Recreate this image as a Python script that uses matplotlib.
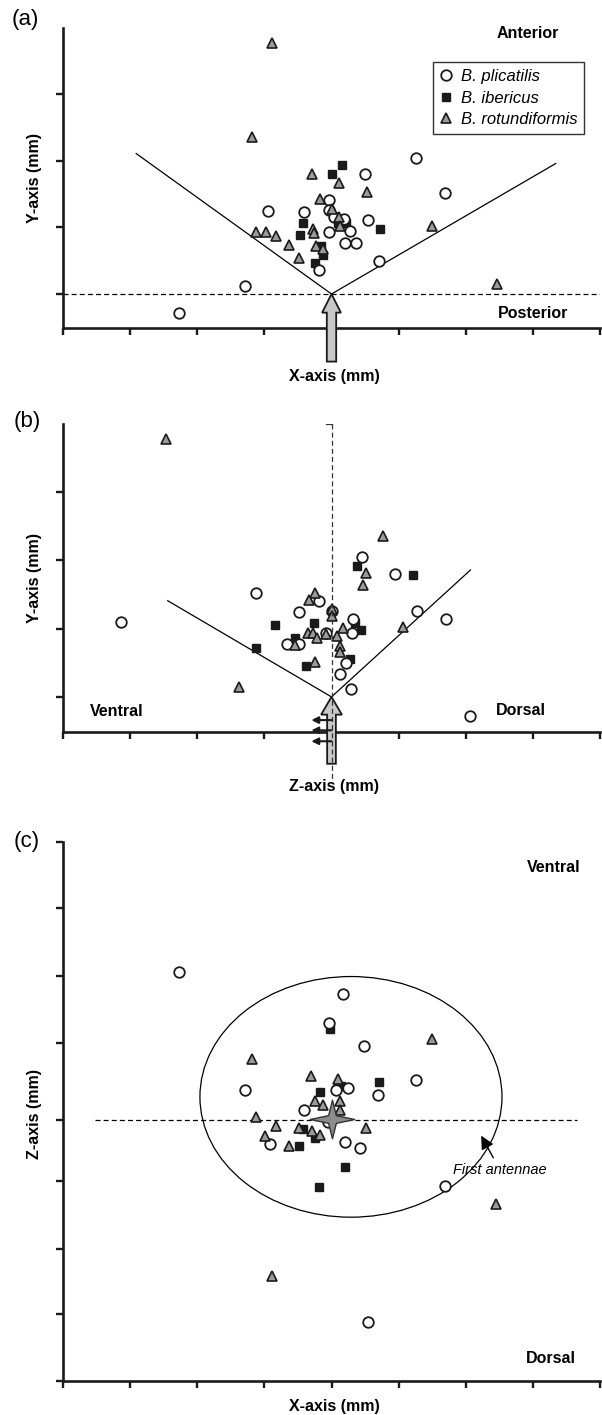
import matplotlib
matplotlib.use('Agg')
import matplotlib.pyplot as plt
from matplotlib.patches import FancyArrow, Ellipse
from matplotlib.path import Path

plt.rcParams['font.family'] = ['Liberation Sans', 'DejaVu Sans']

# ---- panel (a): X vs Y (tick units, origin at arrow tip)
a_plic_x = [-2.27, -1.29, -0.94, -0.41, -0.04, -0.03, 0.04, 0.18, -0.03, 0.28, 0.20, 0.36, 0.55, 0.50, 1.26, 1.69, 0.71, -0.19]
a_plic_y = [-0.29, 0.12, 1.25, 1.23, 1.41, 1.26, 1.16, 1.12, 0.93, 0.95, 0.76, 0.76, 1.11, 1.80, 2.05, 1.52, 0.50, 0.36]
a_iber_x = [0.00, 0.15, -0.43, -0.47, 0.09, 0.21, 0.72, -0.16, -0.13, -0.24]
a_iber_y = [1.80, 1.94, 1.07, 0.88, 1.06, 1.06, 0.98, 0.72, 0.58, 0.46]
a_rotu_x = [-0.88, -1.19, -0.29, 0.11, 0.53, -0.17, 0.01, 0.11, -1.13, -0.98, -0.82, -0.28, -0.26, -0.63, -0.23, -0.12, -0.48, 0.13, 1.50, 2.46]
a_rotu_y = [3.77, 2.36, 1.81, 1.66, 1.53, 1.42, 1.27, 1.16, 0.93, 0.93, 0.87, 0.98, 0.91, 0.73, 0.72, 0.67, 0.54, 1.02, 1.02, 0.15]
a_cone_x = [-2.91, 0, 3.34]
a_cone_y = [2.11, 0, 1.96]

# ---- panel (b): Z vs Y
b_plic_x = [-3.13, -1.13, -0.49, -0.19, 0.01, -0.08, -0.66, -0.48, 0.32, 0.31, 0.22, 0.12, 0.29, 0.45, 0.95, 1.28, 1.71, 2.06]
b_plic_y = [1.10, 1.52, 1.25, 1.40, 1.26, 0.93, 0.77, 0.77, 1.14, 0.93, 0.50, 0.34, 0.12, 2.05, 1.80, 1.26, 1.14, -0.28]
b_iber_x = [0.38, 1.22, -0.84, -0.26, -0.54, -1.13, 0.35, 0.44, 0.27, -0.38]
b_iber_y = [1.92, 1.79, 1.05, 1.08, 0.87, 0.72, 1.08, 0.98, 0.56, 0.46]
b_rotu_x = [-2.47, -1.38, 0.77, 0.51, 0.47, 1.07, -0.24, -0.34, 0.00, 0.00, 0.17, -0.35, -0.28, -0.22, -0.08, 0.08, 0.13, 0.12, -0.55, -0.24]
b_rotu_y = [3.78, 0.15, 2.36, 1.81, 1.64, 1.02, 1.53, 1.42, 1.29, 1.18, 1.01, 0.93, 0.93, 0.87, 0.92, 0.89, 0.74, 0.66, 0.76, 0.51]
b_cone_x = [-2.44, 0, 2.07]
b_cone_y = [1.41, 0, 1.86]
b_swim_y = [-0.34, -0.49, -0.65]

# ---- panel (c): X vs Z
c_plic_x = [-2.27, 0.17, -0.04, 0.49, -1.29, 1.26, 0.70, 0.25, 0.06, -0.41, -0.05, -0.92, 0.20, 0.42, 1.69, 0.54]
c_plic_y = [2.19, 1.87, 1.44, 1.10, 0.45, 0.60, 0.37, 0.48, 0.45, 0.15, -0.03, -0.36, -0.32, -0.42, -0.98, -2.99]
c_iber_x = [-0.02, -0.17, 0.09, 0.14, 0.71, -0.43, -0.25, -0.48, 0.20, -0.19]
c_iber_y = [1.35, 0.42, 0.50, 0.50, 0.56, -0.13, -0.27, -0.39, -0.69, -0.99]
c_rotu_x = [1.50, -1.18, -0.30, 0.10, -0.24, -0.12, 0.12, 0.12, -1.13, -0.82, -0.48, -0.29, -0.17, -0.99, -0.63, 0.52, 2.45, -0.89]
c_rotu_y = [1.21, 0.91, 0.66, 0.61, 0.28, 0.23, 0.28, 0.15, 0.05, -0.09, -0.11, -0.16, -0.22, -0.23, -0.39, -0.11, -1.25, -2.31]
c_field = (0.29, 0.345, 4.50, 3.57)   # centre x, centre y, width, height
c_yticks = [-3.87, -2.88, -1.91, -0.90, 0, 1.14, 2.14, 3.14, 4.13]

xticks = [-4, -3, -2, -1, 0, 1, 2, 3, 4]

species = ['B. plicatilis', 'B. ibericus', 'B. rotundiformis']

W, H = 602, 1415
fig = plt.figure(figsize=(W / 100, H / 100), dpi=100)


def px_axes(left, top, right, bottom):
    return fig.add_axes([left / W, 1 - bottom / H, (right - left) / W, (bottom - top) / H])


def style(ax, yticks):
    for s in ['top', 'right']:
        ax.spines[s].set_visible(False)
    for s in ['left', 'bottom']:
        ax.spines[s].set_linewidth(1.9)
        ax.spines[s].set_color('#1a1a1a')
    ax.set_xticks(xticks)
    ax.set_yticks(yticks)
    ax.set_xticklabels([])
    ax.set_yticklabels([])
    ax.tick_params(direction='out', length=5, width=1.7, color='#1a1a1a')


def scatter3(ax, px, py, ix, iy, rx, ry):
    h2, = ax.plot(ix, iy, 's', ms=6.2, mfc='#1a1a1a', mec='#1a1a1a', ls='none', zorder=3)
    h1, = ax.plot(px, py, 'o', ms=7.6, mfc='white', mec='#1a1a1a', mew=1.3, ls='none', zorder=4)
    h3, = ax.plot(rx, ry, '^', ms=6.8, mfc='#9a9a9a', mec='#1a1a1a', mew=1.2, ls='none', zorder=5)
    return h1, h2, h3


bold = dict(fontsize=11.5, fontweight='bold')

# ================= (a)
ax = px_axes(63, 27.7, 600, 328.3)
style(ax, [0, 1, 2, 3])
ax.set_xlim(-4, 4)
ax.set_ylim(-0.515, 4.0)
ax.axhline(0, color='k', lw=0.9, ls=(0, (4, 2.5)), zorder=1)
ax.plot(a_cone_x, a_cone_y, color='k', lw=0.9, zorder=2)
handles = scatter3(ax, a_plic_x, a_plic_y, a_iber_x, a_iber_y, a_rotu_x, a_rotu_y)
ax.add_patch(FancyArrow(0, -1.015, 0, 1.015, width=0.14, head_width=0.28, head_length=0.28,
                        length_includes_head=True, fc='#c8c8c8', ec='#1a1a1a', lw=1.3,
                        clip_on=False, zorder=6))
leg = ax.legend(handles, species, loc='upper right', bbox_to_anchor=(0.97, 0.885),
                prop=dict(style='italic', size=12), frameon=True, fancybox=False,
                handlelength=0.8, handletextpad=0.45, borderpad=0.4, labelspacing=0.4,
                borderaxespad=0)
leg.get_frame().set_edgecolor('k')
leg.get_frame().set_linewidth(1.0)
ax.text(2.93, 3.91, 'Anterior', ha='center', va='center', **bold)
ax.text(3.01, -0.30, 'Posterior', ha='center', va='center', **bold)
ax.set_xlabel('X-axis (mm)', **bold)
ax.xaxis.set_label_coords(0.505, -0.159)
ax.set_ylabel('Y-axis (mm)', **bold)
ax.yaxis.set_label_coords(-0.054, 0.5)
ax.xaxis.label.set_va('center')
ax.yaxis.label.set_va('center')
fig.text(25 / W, 1 - 20 / H, '(a)', fontsize=16, ha='center', va='center')

# ================= (b)
ax = px_axes(63, 424, 600, 731.7)
style(ax, [0, 1, 2, 3])
ax.set_xlim(-4, 4)
ax.set_ylim(-0.51, 4.0)
ax.plot([0, 0], [4.0, -1.22], color='#333333', lw=0.9, ls=(0, (4, 2.5)), clip_on=False, zorder=7)
ax.plot([-0.08, 0], [4.0, 4.0], color='#333333', lw=0.9)
ax.plot(b_cone_x, b_cone_y, color='k', lw=0.9, zorder=2)
scatter3(ax, b_plic_x, b_plic_y, b_iber_x, b_iber_y, b_rotu_x, b_rotu_y)
ax.add_patch(FancyArrow(0, -0.98, 0, 0.98, width=0.13, head_width=0.31, head_length=0.26,
                        length_includes_head=True, fc='#c8c8c8', ec='#1a1a1a', lw=1.3,
                        clip_on=False, zorder=6))
for yy in b_swim_y:
    ax.annotate('', xy=(-0.30, yy), xytext=(0, yy),
                arrowprops=dict(arrowstyle='-|>', color='#1a1a1a', lw=1.5, mutation_scale=10,
                                shrinkA=0, shrinkB=0),
                annotation_clip=False, zorder=8)
ax.text(-3.2, -0.22, 'Ventral', ha='center', va='center', **bold)
ax.text(2.82, -0.20, 'Dorsal', ha='center', va='center', **bold)
ax.set_xlabel('Z-axis (mm)', **bold)
ax.xaxis.set_label_coords(0.505, -0.179)
ax.set_ylabel('Y-axis (mm)', **bold)
ax.yaxis.set_label_coords(-0.054, 0.5)
ax.xaxis.label.set_va('center')
ax.yaxis.label.set_va('center')
fig.text(27 / W, 1 - 421.7 / H, '(b)', fontsize=16, ha='center', va='center')

# ================= (c)
ax = px_axes(63, 841.7, 600, 1381)
style(ax, c_yticks)
ax.set_xlim(-4, 4)
ax.set_ylim(c_yticks[0], c_yticks[-1])
ax.plot([-3.53, 3.65], [0, 0], color='k', lw=0.9, ls=(0, (4, 2.5)), zorder=1)
cx, cy, cw, ch = c_field
ax.add_patch(Ellipse((cx, cy), cw, ch, fill=False, ec='k', lw=0.9, zorder=2))
scatter3(ax, c_plic_x, c_plic_y, c_iber_x, c_iber_y, c_rotu_x, c_rotu_y)
star = Path([(0, 1), (0.2, 0.2), (1.15, 0), (0.2, -0.2), (0, -1), (-0.2, -0.2),
             (-1.15, 0), (-0.2, 0.2), (0, 1)], closed=True)
ax.plot([0], [0.02], marker=star, ms=32, mfc='#8c8c8c', mec='#333333', mew=1.0, ls='none', zorder=6)
ax.annotate('First antennae', xy=(2.23, -0.23), xytext=(2.51, -0.74),
            ha='center', va='center', fontsize=10.5, style='italic',
            arrowprops=dict(arrowstyle='-|>', color='k', lw=1.0, mutation_scale=20,
                            shrinkA=2, shrinkB=0), zorder=7)
ax.text(3.31, 3.75, 'Ventral', ha='center', va='center', **bold)
ax.text(3.27, -3.54, 'Dorsal', ha='center', va='center', **bold)
ax.set_xlabel('X-axis (mm)', **bold)
ax.xaxis.set_label_coords(0.505, -0.048)
ax.set_ylabel('Z-axis (mm)', **bold)
ax.yaxis.set_label_coords(-0.054, 0.496)
ax.xaxis.label.set_va('center')
ax.yaxis.label.set_va('center')
fig.text(26.7 / W, 1 - 841.7 / H, '(c)', fontsize=16, ha='center', va='center')

fig.savefig('out.png', dpi=100)
